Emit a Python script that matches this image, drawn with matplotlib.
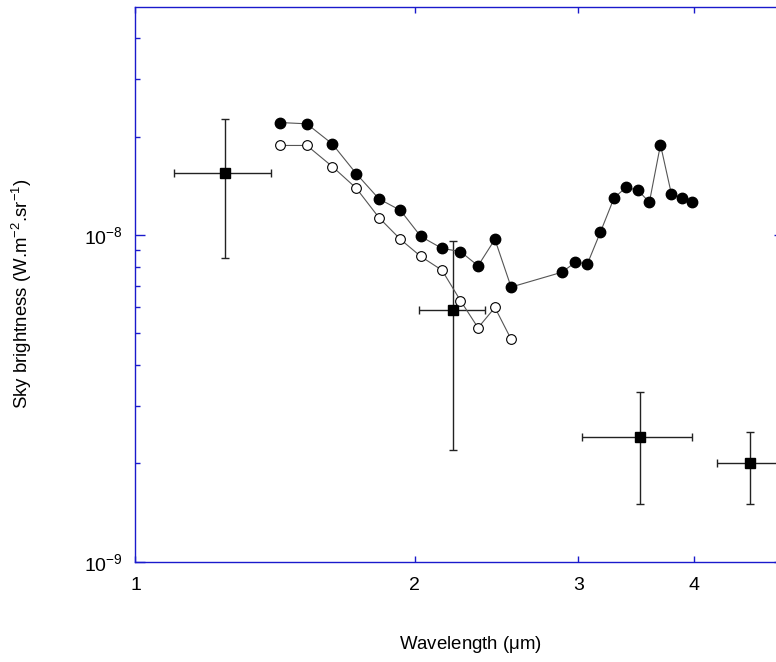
import numpy as np
import matplotlib
matplotlib.use("Agg")
import matplotlib.pyplot as plt
from matplotlib.ticker import NullFormatter, FixedLocator, FixedFormatter, NullLocator

plt.rcParams['font.family'] = ['Liberation Sans', 'DejaVu Sans']
plt.rcParams['mathtext.fontset'] = 'custom'
plt.rcParams['mathtext.rm'] = 'Liberation Sans'
plt.rcParams['mathtext.it'] = 'Liberation Sans:italic'

# spectrum wavelengths (um)
wl = [1.43, 1.53, 1.63, 1.73, 1.83, 1.93, 2.03, 2.14, 2.24, 2.34, 2.44, 2.54,
      2.88, 2.98, 3.07, 3.17, 3.28, 3.38, 3.48, 3.58, 3.68, 3.78, 3.88, 3.98]
# filled circles
sky_filled = [2.21e-8, 2.19e-8, 1.90e-8, 1.54e-8, 1.29e-8, 1.19e-8, 0.99e-8, 0.91e-8,
              0.89e-8, 0.805e-8, 0.97e-8, 0.693e-8,
              0.769e-8, 0.825e-8, 0.817e-8, 1.02e-8, 1.30e-8, 1.40e-8, 1.37e-8, 1.26e-8,
              1.89e-8, 1.34e-8, 1.30e-8, 1.26e-8]
# open circles (short range only)
wl_open = wl[:12]
sky_open = [1.88e-8, 1.88e-8, 1.62e-8, 1.39e-8, 1.13e-8, 0.97e-8, 0.86e-8, 0.78e-8,
            0.63e-8, 0.52e-8, 0.60e-8, 0.48e-8]

# broad-band points with error bars
band_wl = [1.25, 2.20, 3.50, 4.60]
band_lo = [1.10, 2.02, 3.03, 4.23]
band_hi = [1.40, 2.38, 3.98, 5.00]
band_val = [1.55e-8, 0.59e-8, 0.241e-8, 0.20e-8]
band_top = [2.26e-8, 0.96e-8, 0.331e-8, 0.25e-8]
band_bot = [0.85e-8, 0.22e-8, 0.150e-8, 0.150e-8]

# axis ticks
x_ticks = [1, 2, 3, 4]
x_labels = ['1', '2', '3', '4']
y_ticks = [1e-9, 1e-8]
y_labels = [r'$10^{-9}$', r'$10^{-8}$']
y_minor = [k * 1e-9 for k in range(2, 10)] + [k * 1e-8 for k in range(2, 5)]

blue = '#1a1acc'

fig = plt.figure(figsize=(7.76, 6.62), dpi=100)
ax = fig.add_axes([0.1746, 0.1515, 0.8357, 0.8384])

ax.set_xscale('log')
ax.set_yscale('log')

xerr = [np.array(band_wl) - np.array(band_lo), np.array(band_hi) - np.array(band_wl)]
yerr = [np.array(band_val) - np.array(band_bot), np.array(band_top) - np.array(band_val)]
ax.errorbar(band_wl, band_val, xerr=xerr, yerr=yerr, fmt='s', color='black',
            ecolor='#222222', elinewidth=1.0, capsize=3, capthick=1.0,
            markersize=7, zorder=3)

ax.plot(wl, sky_filled, '-o', color='#555555', linewidth=0.8,
        markerfacecolor='black', markeredgecolor='black', markersize=7.5, zorder=4)
ax.plot(wl_open, sky_open, '-o', color='#555555', linewidth=0.8,
        markerfacecolor='white', markeredgecolor='black', markeredgewidth=0.8,
        markersize=7, zorder=4)

ax.set_xlim(1, 5)
ax.set_ylim(1e-9, 5e-8)

for sp in ax.spines.values():
    sp.set_color(blue)
    sp.set_linewidth(1.0)

ax.xaxis.set_major_locator(FixedLocator(x_ticks))
ax.xaxis.set_major_formatter(FixedFormatter(x_labels))
ax.xaxis.set_minor_locator(NullLocator())
ax.tick_params(axis='x', which='major', direction='in', length=4, width=1,
               color=blue, top=True, bottom=True, labelsize=14, pad=11)

ax.yaxis.set_major_locator(FixedLocator(y_ticks))
ax.yaxis.set_major_formatter(FixedFormatter(y_labels))
ax.yaxis.set_minor_locator(FixedLocator(y_minor))
ax.yaxis.set_minor_formatter(NullFormatter())
ax.tick_params(axis='y', which='major', direction='in', length=7, width=1,
               color=blue, left=True, right=True, labelsize=14, pad=9)
ax.tick_params(axis='y', which='minor', direction='in', length=3.5, width=1,
               color=blue, left=True, right=True)

ax.set_xlabel(r'Wavelength ($\mathregular{\mu}$m)', fontsize=13.4)
ax.xaxis.set_label_coords(0.516, -0.130)
ax.set_ylabel(r'Sky brightness (W.m$^{-2}$.sr$^{-1}$)', fontsize=13.4)
ax.yaxis.set_label_coords(-0.157, 0.483)

fig.savefig('out.png', dpi=100)
